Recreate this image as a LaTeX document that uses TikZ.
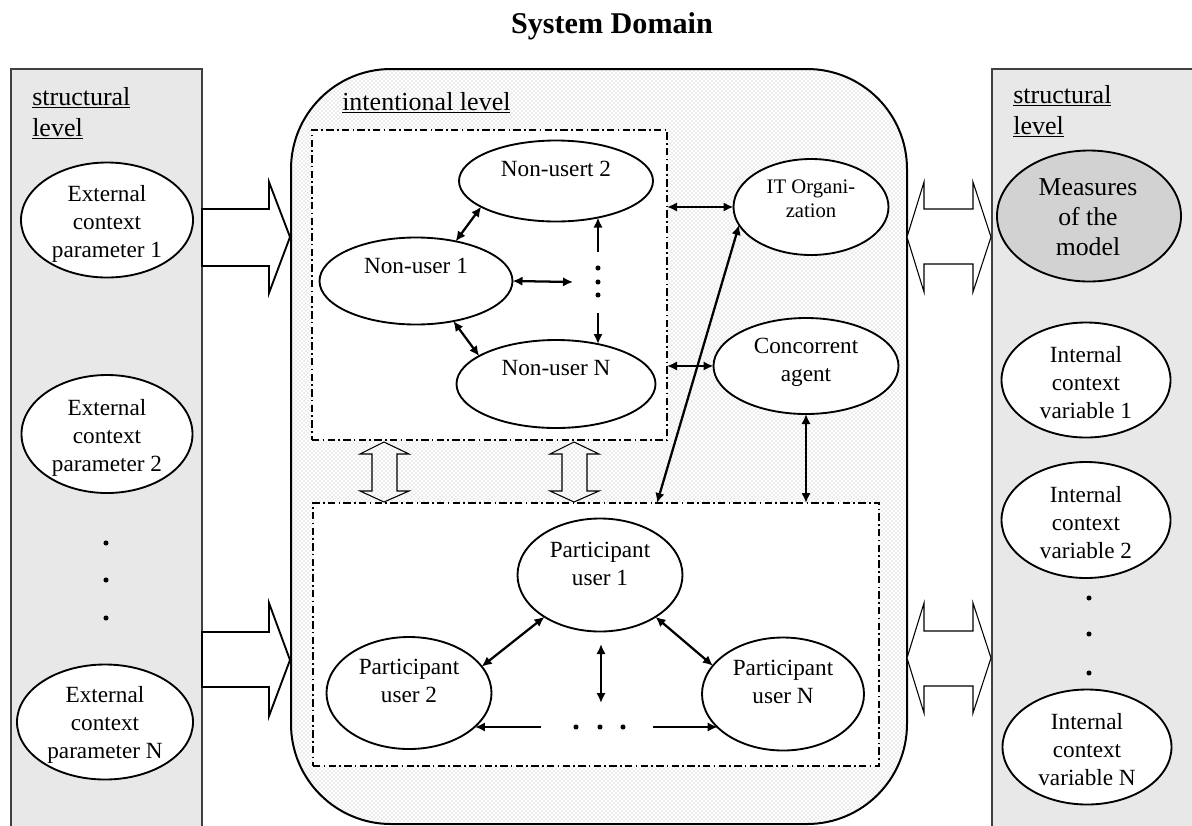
\documentclass[tikz,border=0pt]{standalone}
\usepackage{fontspec}
\setmainfont{Liberation Serif}
\usetikzlibrary{shapes.geometric,arrows.meta,patterns}
\definecolor{panelgray}{HTML}{E8E8E8}
\definecolor{measgray}{HTML}{D2D2D2}
\definecolor{dotgray}{HTML}{B4B4B4}
\begin{document}
\begin{tikzpicture}[x=0.75pt,y=-0.75pt,
  ell/.style={ellipse,draw,line width=1.4pt,fill=white,inner sep=0pt,outer sep=0pt},
  txt/.style={align=center,font=\fontsize{17.4}{21}\selectfont,inner sep=0pt},
  smalltxt/.style={align=center,font=\fontsize{15.5}{18}\selectfont,inner sep=0pt},
  bigtxt/.style={align=center,font=\fontsize{19.3}{22.5}\selectfont,inner sep=0pt},
  lvl/.style={align=left,font=\fontsize{19.5}{23}\selectfont,inner sep=0pt},
  panel/.style={draw=black!75,line width=1pt,fill=panelgray},
  dashbox/.style={draw,line width=1.2pt,fill=white,inner sep=0pt,outer sep=0pt,
     dash pattern=on 5.5pt off 2.5pt on 1.2pt off 2.5pt},
  arr/.style={line width=1.7pt,{Latex[length=7.5pt,width=7pt]}-{Latex[length=7.5pt,width=7pt]}},
  arrone/.style={line width=1.7pt,-{Latex[length=7.5pt,width=7pt]}},
  bighollow/.style={draw,line width=1.4pt,fill=white},
  thinhollow/.style={draw,line width=0.8pt},
  dotnode/.style={circle,fill=black,inner sep=0pt,minimum size=3.8pt}
]
\useasboundingbox (0,0) rectangle (1192,825);
\clip (0,0) rectangle (1192,825);

% title
\node[font=\fontsize{22.6}{27}\selectfont\bfseries] (title) at (612,26) {System Domain};

% side panels
\draw[panel] (11,69) rectangle (202,835);
\draw[panel] (992,69) rectangle (1210,835);

% central rounded region
\draw[line width=1.5pt,rounded corners=75pt,preaction={fill=white},
      pattern=crosshatch dots,pattern color=dotgray] (291,69) rectangle (907,824);

% dash-dot boxes
\node[dashbox,minimum width=266.25pt,minimum height=232.5pt] (nbox) at (489.5,285) {};
\node[dashbox,minimum width=424.5pt,minimum height=197.25pt] (pbox) at (596,634.5) {};

% level labels
\node[lvl,anchor=base west] (sl) at (32,136) {\underline{structural}\\\underline{level}};
\node[lvl,anchor=base west] (sr) at (1013,134) {\underline{structural}\\\underline{level}};
\node[lvl,anchor=base west] (il) at (342,110) {\underline{intentional level}};

% left ellipses
\node[ell,minimum width=129pt,minimum height=86.25pt] (ext1) at (107,220) {};
\node[ell,minimum width=128.25pt,minimum height=88.5pt] (ext2) at (107,434) {};
\node[ell,minimum width=132pt,minimum height=86.25pt] (extN) at (105,722) {};
\node[txt] at (107,224) {External\\context\\parameter 1};
\node[txt] at (107,438) {External\\context\\parameter 2};
\node[txt] at (105,725) {External\\context\\parameter N};
\node[dotnode] (ld1) at (106,543) {};
\node[dotnode] (ld2) at (106,580) {};
\node[dotnode] (ld3) at (106,618) {};

% right ellipses
\node[ell,fill=measgray,minimum width=138pt,minimum height=98.25pt] (meas) at (1089,216) {};
\node[ell,minimum width=126.75pt,minimum height=86.25pt] (int1) at (1086,380) {};
\node[ell,minimum width=126.75pt,minimum height=87pt] (int2) at (1086,520) {};
\node[ell,minimum width=126.75pt,minimum height=86.25pt] (intN) at (1087,747) {};
\node[bigtxt] at (1088,217) {Measures\\of the\\model};
\node[txt] at (1086,383) {Internal\\context\\variable 1};
\node[txt] at (1086,523) {Internal\\context\\variable 2};
\node[txt] at (1087,750) {Internal\\context\\variable N};
\node[dotnode] (rd1) at (1089,598) {};
\node[dotnode] (rd2) at (1089,634) {};
\node[dotnode] (rd3) at (1089,673) {};

% non-users
\node[ell,minimum width=145.5pt,minimum height=60.75pt] (nu2) at (556,181) {};
\node[ell,minimum width=144.75pt,minimum height=65.25pt] (nu1) at (416,281) {};
\node[ell,minimum width=149.25pt,minimum height=66pt] (nuN) at (556,384) {};
\node[txt] at (556,169) {Non-usert 2};
\node[txt] at (416,266) {Non-user 1};
\node[txt] at (556,368) {Non-user N};
\node[dotnode] (td1) at (598,268) {};
\node[dotnode] (td2) at (598,282) {};
\node[dotnode] (td3) at (598,295) {};

% IT organization and concorrent agent
\node[ell,minimum width=116.25pt,minimum height=72pt] (it) at (811,207) {};
\node[ell,minimum width=138.75pt,minimum height=72pt] (ca) at (806,366) {};
\node[smalltxt] at (811,199) {IT Organi-\\zation};
\node[txt] at (806,362) {Concorrent\\agent};

% participants
\node[ell,minimum width=123.75pt,minimum height=84.75pt] (p1) at (600,575) {};
\node[ell,minimum width=123.75pt,minimum height=84pt] (p2) at (409,693) {};
\node[ell,minimum width=121.5pt,minimum height=84.75pt] (pN) at (783,694) {};
\node[txt] at (600,564) {Participant\\user 1};
\node[txt] at (409,681) {Participant\\user 2};
\node[txt] at (783,682) {Participant\\user N};
\node[dotnode] (bd1) at (576,727) {};
\node[dotnode] (bd2) at (600,727) {};
\node[dotnode] (bd3) at (623,727) {};

% coordinates for free connector ends
\coordinate (hnE) at (573,282);
\coordinate (vtop) at (598,252);
\coordinate (vbot) at (598,313);
\coordinate (lx) at (657,503);
\coordinate (pvt) at (601,644);
\coordinate (pvb) at (601,703);
\coordinate (hl) at (541,727);
\coordinate (hr) at (653,727);

% connectors in non-user box
\draw[arr] (nu1.45) -- (nu2.199);
\draw[arr] (nu1.-47) -- (nuN.160);
\draw[arr] (nu1.east) -- (hnE);
\draw[arrone] (vtop) -- (vtop |- nu2.-41);
\draw[arrone] (vbot) -- (vbot |- nuN.44);

% connectors to IT and agent
\draw[arr] (nbox.east |- it.west) -- (it.west);
\draw[arr] (nbox.east |- ca.west) -- (ca.west);
\draw[arr] (it.194) -- (lx);
\draw[arr] (ca.south) -- (ca.south |- pbox.north);

% connectors in participant box
\draw[arr] (p1.217) -- (p2.20);
\draw[arr] (p1.323) -- (pN.158);
\draw[arr] (pvt) -- (pvb);
\draw[arrone] (hl) -- (hl -| p2.-27);
\draw[arrone] (hr) -- (hr -| pN.207);

% hollow vertical double arrows between boxes
\draw[thinhollow] (384,442) -- (409,454) -- (397,454) -- (397,491) -- (409,491) -- (384,502)
  -- (360,491) -- (372,491) -- (372,454) -- (360,454) -- cycle;
\draw[thinhollow] (574,442) -- (599,454) -- (587,454) -- (587,491) -- (599,491) -- (574,502)
  -- (550,491) -- (562,491) -- (562,454) -- (550,454) -- cycle;

% big left arrows
\draw[bighollow] (202,209) -- (269,209) -- (269,182) -- (290,237) -- (269,293) -- (269,266) -- (202,266) -- cycle;
\draw[bighollow] (202,632) -- (269,632) -- (269,603) -- (290,660) -- (269,716) -- (269,687) -- (202,687) -- cycle;

% big right double arrows
\draw[thinhollow,fill=white] (907,237) -- (924,182) -- (924,209) -- (973,209) -- (973,182) -- (991,237)
  -- (973,292) -- (973,264) -- (924,264) -- (924,292) -- cycle;
\draw[thinhollow,fill=white] (907,658) -- (924,603) -- (924,631) -- (973,631) -- (973,603) -- (991,658)
  -- (973,713) -- (973,686) -- (924,686) -- (924,713) -- cycle;
\end{tikzpicture}
\end{document}
